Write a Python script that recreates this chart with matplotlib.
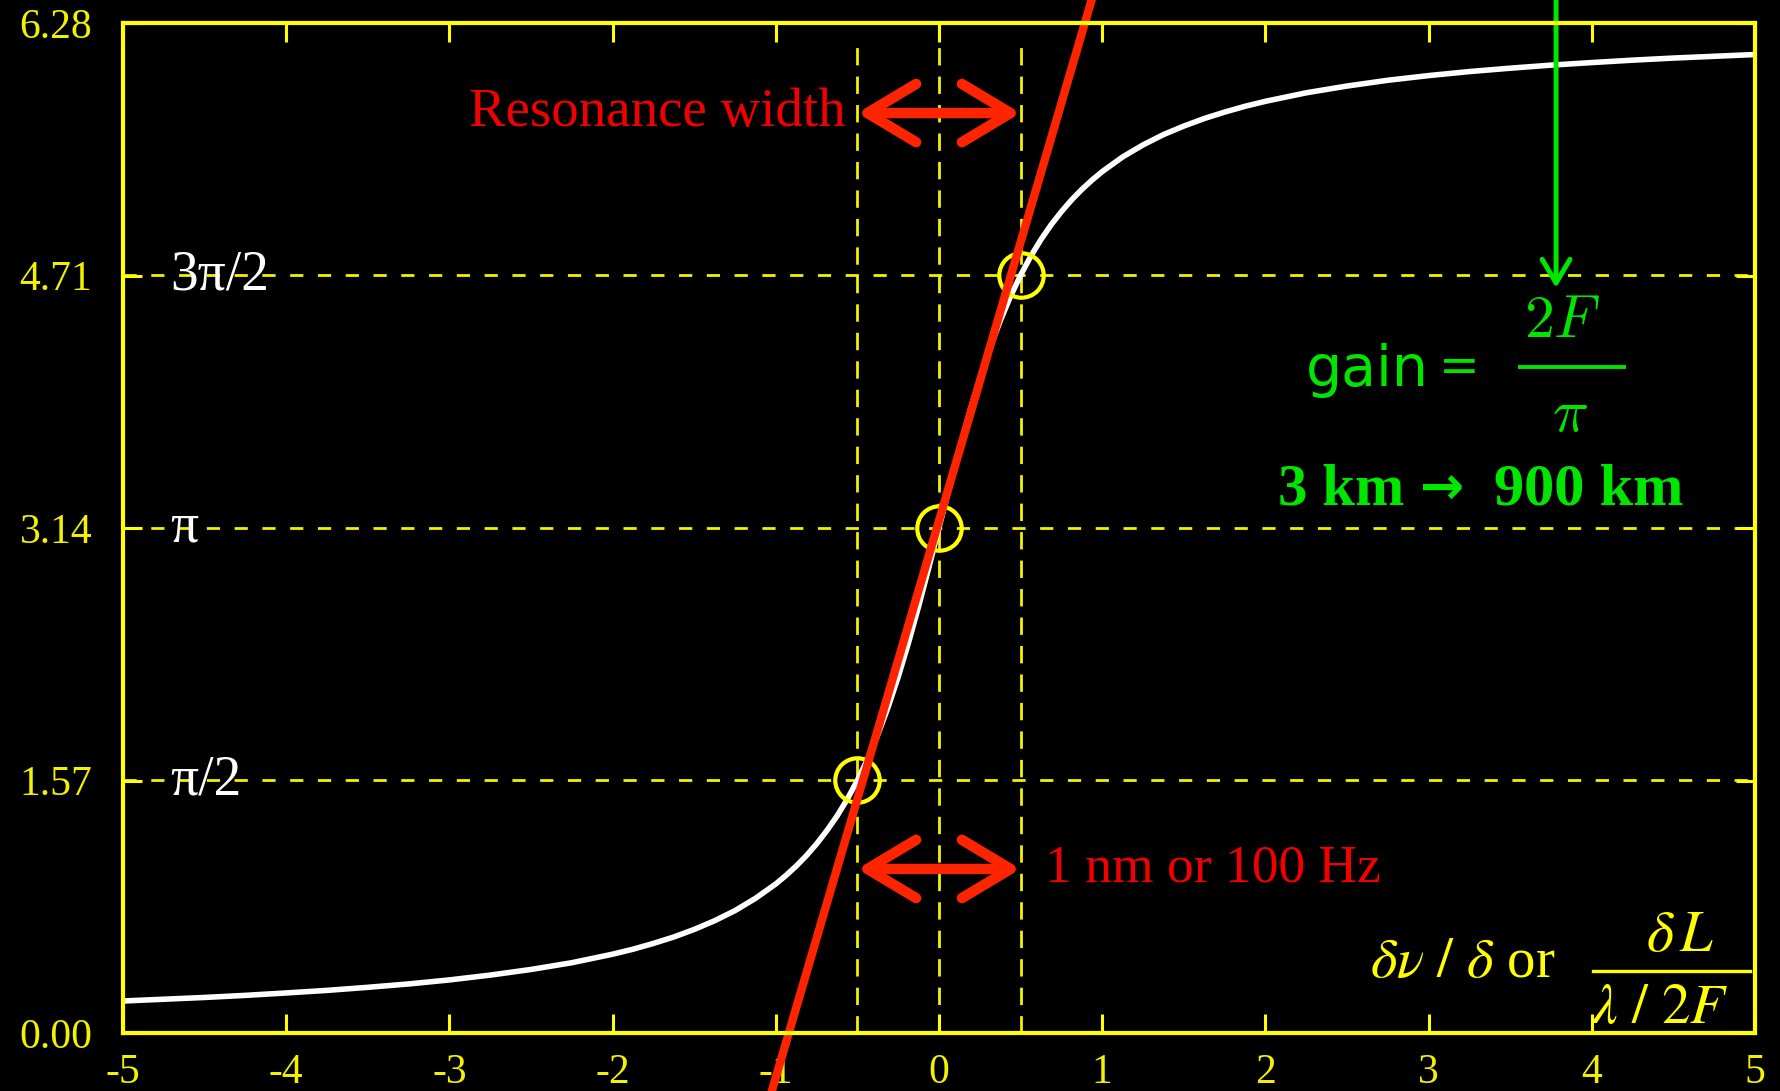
import matplotlib
matplotlib.use("Agg")
import matplotlib.pyplot as plt
from matplotlib.patches import ArrowStyle

# ---------------- data ----------------
detuning = [-5, -4.75, -4.5, -4.25, -4, -3.75, -3.5, -3.25, -3, -2.75, -2.5, -2.25,
            -2, -1.875, -1.75, -1.625, -1.5, -1.375, -1.25, -1.125, -1, -0.9375,
            -0.875, -0.8125, -0.75, -0.6875, -0.625, -0.5625, -0.5, -0.4375, -0.375,
            -0.3125, -0.25, -0.1875, -0.125, -0.0625, 0, 0.0625, 0.125, 0.1875, 0.25,
            0.3125, 0.375, 0.4375, 0.5, 0.5625, 0.625, 0.6875, 0.75, 0.8125, 0.875,
            0.9375, 1, 1.125, 1.25, 1.375, 1.5, 1.625, 1.75, 1.875, 2, 2.25, 2.5,
            2.75, 3, 3.25, 3.5, 3.75, 4, 4.25, 4.5, 4.75, 5]
phase = [0.199, 0.210, 0.221, 0.234, 0.249, 0.265, 0.284, 0.305, 0.330, 0.360,
         0.395, 0.437, 0.490, 0.521, 0.557, 0.597, 0.644, 0.698, 0.761, 0.837,
         0.927, 0.980, 1.038, 1.103, 1.176, 1.258, 1.349, 1.453, 1.571, 1.704,
         1.855, 2.024, 2.214, 2.424, 2.652, 2.893, 3.142, 3.390, 3.631, 3.859,
         4.069, 4.259, 4.428, 4.579, 4.712, 4.830, 4.934, 5.026, 5.107, 5.180,
         5.245, 5.303, 5.356, 5.447, 5.522, 5.586, 5.639, 5.686, 5.726, 5.762,
         5.793, 5.846, 5.888, 5.924, 5.953, 5.978, 5.999, 6.018, 6.034, 6.049,
         6.062, 6.073, 6.084]

slope_x = [-1.03, 0.94]
slope_y = [-0.38, 6.44]

marker_x = [-0.5, 0.0, 0.5]
marker_y = [1.571, 3.142, 4.712]

ref_levels = [1.571, 3.142, 4.712]
ref_labels = ["π/2", "π", "3π/2"]
width_edges = [-0.5, 0.0, 0.5]

xticks = [-5, -4, -3, -2, -1, 0, 1, 2, 3, 4, 5]
xtick_labels = ["-5", "-4", "-3", "-2", "-1", "0", "1", "2", "3", "4", "5"]
yticks = [0.0, 1.57, 3.14, 4.71, 6.28]
ytick_labels = ["0.00", "1.57", "3.14", "4.71", "6.28"]

# ---------------- style ----------------
YEL = "#FFFF00"
YEL_D = "#F2F200"
RED_T = "#F00000"
RED_A = "#FF2400"
GRN = "#00E600"

plt.rcParams["font.family"] = ["Liberation Serif", "DejaVu Serif"]
plt.rcParams["lines.scale_dashes"] = False

W, H = 1781, 1091
fig = plt.figure(figsize=(W / 100, H / 100), dpi=100, facecolor="black")
ax = fig.add_axes([123 / W, (H - 1033) / H, (1755 - 123) / W, (1033 - 23) / H])
ax.set_facecolor("black")
ax.set_xlim(-5, 5)
ax.set_ylim(0, 6.28)

ax.set_xticks(xticks)
ax.set_xticklabels(xtick_labels)
ax.set_yticks(yticks)
ax.set_yticklabels(ytick_labels)
ax.tick_params(axis="both", direction="in", length=14, width=2.2, color=YEL,
               labelcolor=YEL_D, labelsize=30, top=True, right=True)
ax.tick_params(axis="x", pad=15)
ax.tick_params(axis="y", pad=22)
for s in ax.spines.values():
    s.set_color(YEL)
    s.set_linewidth(3)
    s.set_zorder(6)

# dashed guide lines
for lev in ref_levels:
    ax.axhline(lev, color=YEL_D, lw=2, dashes=(9.5, 10.5), zorder=1)
for e in width_edges:
    ax.axvline(e, ymax=0.985, color=YEL_D, lw=2, dashes=(12.5, 8), zorder=1)

# level labels
for lev, lab in zip(ref_levels, ref_labels):
    ax.text(-4.71, lev, lab, color="white", fontsize=40, ha="left",
            va="center", zorder=7)

# curve, markers, slope line
ax.plot(detuning, phase, color="white", lw=4, zorder=3,
        solid_joinstyle="round")
ax.plot(marker_x, marker_y, "o", ms=32, mfc="none", mec=YEL, mew=3, zorder=4)
ax.plot(slope_x, slope_y, color=RED_A, lw=6, clip_on=False, zorder=5)

# red double arrows + labels
arr = ArrowStyle("<->", head_length=3.5, head_width=2.1)
for yv in (5.72, 1.02):
    ax.annotate("", xy=(width_edges[-1], yv), xytext=(width_edges[0], yv),
                arrowprops=dict(arrowstyle=arr, color=RED_A, lw=7.5,
                                capstyle="round", joinstyle="round",
                                shrinkA=0, shrinkB=0, mutation_scale=10),
                zorder=6)
ax.text(-0.57, 5.72, "Resonance width", color=RED_T, fontsize=39.5,
        ha="right", va="center", zorder=7)
ax.text(0.65, 1.02, "1 nm or 100 Hz", color=RED_T, fontsize=38.5,
        ha="left", va="center", zorder=7)

# green arrow & gain text
ax.annotate("", xy=(3.781, 4.633), xytext=(3.781, 6.45),
            arrowprops=dict(arrowstyle=ArrowStyle("->", head_length=1.7, head_width=1.0),
                            color=GRN, lw=3.6, shrinkA=0, shrinkB=0,
                            mutation_scale=10, clip_on=False),
            annotation_clip=False, zorder=6)
ax.text(2.249, 4.02, "gain", color=GRN, fontsize=41, family="DejaVu Sans",
        ha="left", va="baseline", zorder=7)
ax.text(3.06, 4.136, "=", color=GRN, fontsize=35, family="DejaVu Sans",
        ha="left", va="center", zorder=7)
ax.text(3.818, 4.415, r"$2F$", color=GRN, fontsize=43, math_fontfamily="cm",
        ha="center", va="center", zorder=7)
ax.plot([3.56, 4.197], [4.142, 4.142], color=GRN, lw=2.8, zorder=7)
ax.text(3.866, 3.825, r"$\pi$", color=GRN, fontsize=43, math_fontfamily="cm",
        ha="center", va="center", zorder=7)
ax.text(2.077, 3.371, "3 km", color=GRN, fontsize=42.5,
        fontweight="bold", ha="left", va="center", zorder=7)
ax.text(3.08, 3.385, "→", color=GRN, fontsize=38, family="DejaVu Sans",
        fontweight="bold", ha="center", va="center", zorder=7)
ax.text(4.559, 3.371, "900 km", color=GRN, fontsize=43.5,
        fontweight="bold", ha="right", va="center", zorder=7)

# yellow axis-quantity label
ax.text(2.64, 0.435, r"$\delta\nu\ /\ \delta$" + " or", color=YEL, fontsize=41,
        math_fontfamily="stix", ha="left", va="center", zorder=7)
ax.plot([4.01, 4.97], [0.386, 0.386], color=YEL, lw=2.4, clip_on=False, zorder=7)
ax.text(4.545, 0.60, r"$\delta\,L$", color=YEL, fontsize=42,
        math_fontfamily="stix", ha="center", va="center", zorder=7)
ax.text(4.418, 0.149, r"$\lambda\ /\ 2F$", color=YEL, fontsize=41,
        math_fontfamily="stix", ha="center", va="center", zorder=7)

fig.savefig("out.png", dpi=100, facecolor="black")
